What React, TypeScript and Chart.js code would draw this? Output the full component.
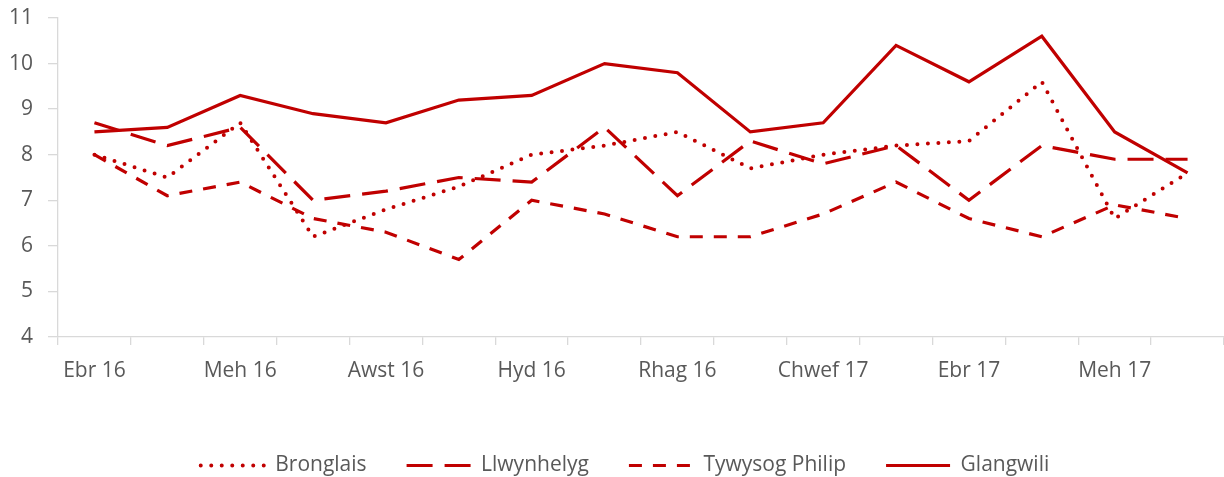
import React, { useEffect, useRef } from 'react';
import { Chart, registerables } from 'chart.js';

Chart.register(...registerables);

const months = [
  'Ebr 16', 'Mai 16', 'Meh 16', 'Gorff 16', 'Awst 16', 'Medi 16', 'Hyd 16', 'Tach 16',
  'Rhag 16', 'Ion 17', 'Chwef 17', 'Maw 17', 'Ebr 17', 'Mai 17', 'Meh 17', 'Gorff 17',
];

const bronglais = [8.0, 7.5, 8.7, 6.2, 6.8, 7.3, 8.0, 8.2, 8.5, 7.7, 8.0, 8.2, 8.3, 9.6, 6.6, 7.6];
const llwynhelyg = [8.7, 8.2, 8.6, 7.0, 7.2, 7.5, 7.4, 8.6, 7.1, 8.3, 7.8, 8.2, 7.0, 8.2, 7.9, 7.9];
const tywysogPhilip = [8.0, 7.1, 7.4, 6.6, 6.3, 5.7, 7.0, 6.7, 6.2, 6.2, 6.7, 7.4, 6.6, 6.2, 6.9, 6.6];
const glangwili = [8.5, 8.6, 9.3, 8.9, 8.7, 9.2, 9.3, 10.0, 9.8, 8.5, 8.7, 10.4, 9.6, 10.6, 8.5, 7.6];

const RED = '#c00000';
const GREY_TEXT = '#595959';
const AXIS = '#d9d9d9';
const FONT = "'Open Sans', 'DejaVu Sans', sans-serif";

const shiftLegend = {
  id: 'shiftLegend',
  afterLayout(c: any) {
    if (c.legend) {
      c.legend.left += 13;
      c.legend.right += 13;
    }
  },
};

export default function App() {
  const ref = useRef<HTMLCanvasElement>(null);

  useEffect(() => {
    if (!ref.current) return;
    const chart = new Chart(ref.current, {
      type: 'line',
      plugins: [shiftLegend],
      data: {
        labels: months,
        datasets: [
          {
            label: 'Bronglais',
            data: bronglais,
            borderColor: RED,
            backgroundColor: RED,
            borderWidth: 4,
            borderDash: [0, 10.5],
            borderCapStyle: 'round',
            pointRadius: 0,
            tension: 0,
          },
          {
            label: 'Llwynhelyg',
            data: llwynhelyg,
            borderColor: RED,
            backgroundColor: RED,
            borderWidth: 3.2,
            borderDash: [26, 12],
            borderCapStyle: 'butt',
            pointRadius: 0,
            tension: 0,
          },
          {
            label: 'Tywysog Philip',
            data: tywysogPhilip,
            borderColor: RED,
            backgroundColor: RED,
            borderWidth: 3.2,
            borderDash: [13, 11],
            borderCapStyle: 'butt',
            pointRadius: 0,
            tension: 0,
          },
          {
            label: 'Glangwili',
            data: glangwili,
            borderColor: RED,
            backgroundColor: RED,
            borderWidth: 3.2,
            borderCapStyle: 'butt',
            pointRadius: 0,
            tension: 0,
          },
        ],
      },
      options: {
        responsive: false,
        animation: false,
        devicePixelRatio: 1,
        layout: { padding: { top: 18, left: 0, right: 0, bottom: 0 } },
        plugins: {
          tooltip: { enabled: false },
          legend: {
            position: 'bottom',
            labels: {
              usePointStyle: true,
              pointStyle: 'line',
              pointStyleWidth: 64,
              padding: 40,
              color: GREY_TEXT,
              font: { family: FONT, size: 21 },
              generateLabels: (c: any) =>
                c.data.datasets.map((ds: any, i: number) => ({
                  text: ds.label,
                  fillStyle: ds.borderColor,
                  strokeStyle: ds.borderColor,
                  lineWidth: ds.borderWidth,
                  lineDash: ds.borderDash || [],
                  lineDashOffset: 0,
                  lineCap: ds.borderCapStyle || 'butt',
                  lineJoin: 'miter',
                  pointStyle: 'line',
                  rotation: 0,
                  hidden: false,
                  datasetIndex: i,
                  fontColor: GREY_TEXT,
                })),
            },
          },
        },
        scales: {
          x: {
            offset: true,
            afterFit: (s: any) => {
              s.height = 78;
            },
            grid: {
              offset: true,
              drawOnChartArea: false,
              drawTicks: true,
              tickLength: 8,
              color: AXIS,
              lineWidth: 1.3,
            },
            border: { display: true, color: AXIS, width: 1.3 },
            ticks: {
              autoSkip: false,
              maxRotation: 0,
              minRotation: 0,
              padding: 13,
              color: GREY_TEXT,
              font: { family: FONT, size: 21 },
              callback: (_v: any, i: number) => (i % 2 === 0 ? months[i] : ''),
            },
          },
          y: {
            min: 4,
            max: 11,
            afterFit: (s: any) => {
              s.width = 58;
              s.paddingTop = 0;
              s.paddingBottom = 0;
            },
            grid: {
              drawOnChartArea: false,
              drawTicks: true,
              tickLength: 10,
              color: AXIS,
              lineWidth: 1.3,
            },
            border: { display: true, color: AXIS, width: 1.3 },
            ticks: {
              stepSize: 1,
              padding: 15,
              color: GREY_TEXT,
              font: { family: FONT, size: 21 },
            },
          },
        },
      },
    });
    return () => chart.destroy();
  }, []);

  return (
    <div
      style={{
        position: 'fixed',
        left: 0,
        top: 0,
        width: 1224,
        height: 477,
        overflow: 'hidden',
        background: '#ffffff',
      }}
    >
      <canvas ref={ref} width={1224} height={486} style={{ display: 'block' }} />
    </div>
  );
}
